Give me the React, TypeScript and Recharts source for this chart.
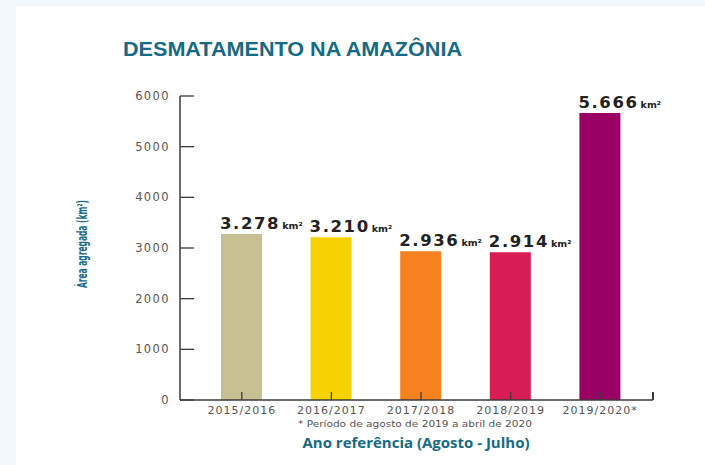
import React from "react"
import { BarChart, Bar, XAxis, YAxis, Cell, LabelList } from "recharts"

const years = ["2015/2016", "2016/2017", "2017/2018", "2018/2019", "2019/2020*"]
const areas = [3278, 3210, 2936, 2914, 5666]
const barColors = ["#c5bf91", "#f5d200", "#f5821f", "#d81d52", "#9a0064"]
const yTicks = [0, 1000, 2000, 3000, 4000, 5000, 6000]

const data = years.map((year, i) => ({ year, area: areas[i] }))

const TEAL = "#156a85"
const AXIS = "#3a3a3a"
const GRAY = "#555"

const fmt = (v: number) => {
  const s = String(v)
  return s.length > 3 ? s.slice(0, s.length - 3) + "." + s.slice(-3) : s
}

const YTick = ({ x, y, payload }: any) => (
  <g>
    <line x1={x + 10} x2={x + 24} y1={y} y2={y} stroke={AXIS} strokeWidth={1.3} />
    <text
      x={x}
      y={y}
      dy={4}
      textAnchor="end"
      fill={GRAY}
      fontSize={11.5}
      letterSpacing={1.4}
      fontFamily="DejaVu Sans"
    >
      {payload.value}
    </text>
  </g>
)

const XTick = ({ x, y, payload }: any) => (
  <g>
    <line x1={x} x2={x} y1={y - 10} y2={y - 18} stroke={AXIS} strokeWidth={1.3} />
    <text
      x={x}
      y={y}
      dy={4}
      textAnchor="middle"
      fill={GRAY}
      fontSize={11}
      letterSpacing={1}
      fontFamily="DejaVu Sans"
    >
      {payload.value}
    </text>
  </g>
)

const ValueLabel = ({ x, y, value }: any) => (
  <text x={x - 1} y={y - 5} fill="#222" fontFamily="DejaVu Sans" fontWeight="bold">
    <tspan fontSize={16.5} letterSpacing={1.6}>{fmt(value)}</tspan>
    <tspan fontSize={9.5} dx={2}>km²</tspan>
  </text>
)

export default function App() {
  return (
    <div style={{ position: "absolute", left: 0, top: 0, width: 705, height: 465, background: "#fff", overflow: "hidden" }}>
      <div style={{ position: "absolute", left: 0, top: 0, width: 16, height: 465, background: "#f2f7fb" }} />
      <div style={{ position: "absolute", left: 0, top: 0, width: 705, height: 6, background: "#f2f7fb" }} />

      <div style={{ position: "absolute", left: 0, top: 0 }}>
        <BarChart width={705} height={465} data={data} margin={{ top: 96, right: 52, bottom: 35, left: 0 }}>
          <XAxis
            dataKey="year"
            height={30}
            padding={{ left: 17, right: 8 }}
            axisLine={{ stroke: AXIS, strokeWidth: 1.5 }}
            tickLine={false}
            tickSize={0}
            tickMargin={10}
            tick={<XTick />}
            interval={0}
          />
          <YAxis
            width={180}
            domain={[0, 6000]}
            ticks={yTicks}
            axisLine={{ stroke: AXIS, strokeWidth: 1.5 }}
            tickLine={false}
            tickSize={0}
            tickMargin={10}
            tick={<YTick />}
          />
          <Bar dataKey="area" barSize={41} isAnimationActive={false}>
            {data.map((_, i) => (
              <Cell key={`c-${i}`} fill={barColors[i]} />
            ))}
            <LabelList dataKey="area" content={<ValueLabel />} />
          </Bar>
        </BarChart>
      </div>

      <div style={{ position: "absolute", left: 652, top: 392, width: 1.5, height: 8, background: AXIS }} />

      <svg width={705} height={465} style={{ position: "absolute", left: 0, top: 0, pointerEvents: "none" }}>
        <text x={123} y={56} fill={TEAL} fontFamily="Liberation Sans" fontWeight="bold" fontSize={20} textLength={339} lengthAdjust="spacingAndGlyphs">
          DESMATAMENTO NA AMAZÔNIA
        </text>
        <text
          transform="translate(87,244) rotate(-90)"
          textAnchor="middle"
          fill={TEAL}
          fontFamily="DejaVu Sans Condensed"
          fontWeight="bold"
          fontSize={14}
          textLength={88}
          lengthAdjust="spacingAndGlyphs"
        >
          Área agregada (km²)
        </text>
        <text x={415} y={427} textAnchor="middle" fill={GRAY} fontFamily="DejaVu Sans" fontSize={8.5} textLength={234} lengthAdjust="spacingAndGlyphs">
          * Período de agosto de 2019 a abril de 2020
        </text>
        <text x={416} y={448} textAnchor="middle" fill={TEAL} fontFamily="Open Sans" fontWeight="bold" fontSize={15} textLength={227} lengthAdjust="spacingAndGlyphs">
          Ano referência (Agosto - Julho)
        </text>
      </svg>
    </div>
  )
}
